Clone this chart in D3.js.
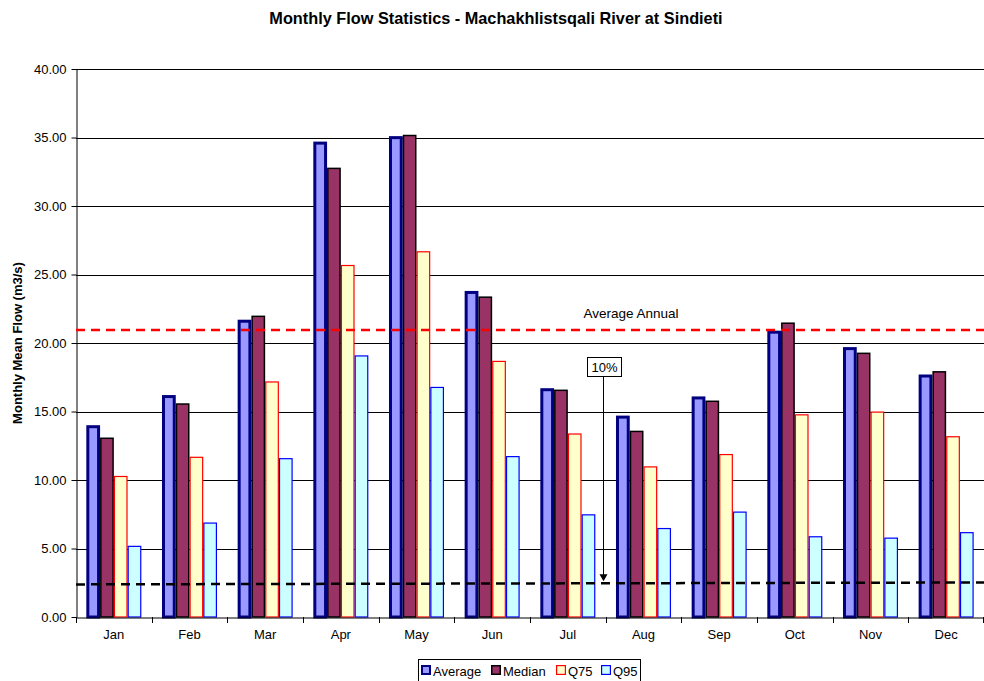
<!DOCTYPE html>
<html><head><meta charset="utf-8">
<script src="https://cdn.jsdelivr.net/npm/d3@7"></script>
<style>body{margin:0;background:#fff;}svg{display:block;font-family:"Liberation Sans",Arial,sans-serif;}</style>
</head><body><svg id="c" width="984" height="681"></svg>
<script>
const months = ["Jan","Feb","Mar","Apr","May","Jun","Jul","Aug","Sep","Oct","Nov","Dec"];
const average = [14.0,16.2,21.7,34.7,35.1,23.8,16.7,14.7,16.1,20.9,19.7,17.7];
const median  = [13.1,15.6,22.0,32.8,35.2,23.4,16.6,13.6,15.8,21.5,19.3,17.95];
const q75     = [10.3,11.7,17.2,25.7,26.7,18.7,13.4,11.0,11.9,14.8,15.0,13.2];
const q95     = [5.2,6.9,11.6,19.1,16.8,11.75,7.5,6.5,7.7,5.9,5.8,6.2];
const yTicks = [0,5,10,15,20,25,30,35,40];
const averageAnnual = 20.95;
const tenPercent = [2.38, 2.52];
const seriesNames = ["Average","Median","Q75","Q95"];
const seriesValues = [average, median, q75, q95];
const styles = [
  {fill:"#9999FF", stroke:"#000080", sw:3},
  {fill:"#993366", stroke:"#000000", sw:1.5},
  {fill:"#FFFFCC", stroke:"#FF0000", sw:1.2},
  {fill:"#CCFFFF", stroke:"#0000FF", sw:1.2}
];

const svg = d3.select("#c");
const L = 76, R = 984, T = 69, B = 617;
const x = d3.scaleBand().domain(months).range([L, R]).paddingInner(0).paddingOuter(0);
const y = d3.scaleLinear().domain([0, 40]).range([B, T]);
const bw = x.bandwidth() / 5.5;
const xs = d3.scaleBand().domain(seriesNames).range([0.75*bw, 4.75*bw]).padding(0);

// title
svg.append("text").attr("x", 496).attr("y", 24).attr("text-anchor","middle")
  .attr("font-size", 16.3).attr("font-weight","bold").text("Monthly Flow Statistics - Machakhlistsqali River at Sindieti");

// gridlines
svg.append("g").selectAll("line").data(yTicks.filter(d=>d>0)).join("line")
  .attr("x1", L).attr("x2", R).attr("y1", d=>Math.round(y(d))+0.5).attr("y2", d=>Math.round(y(d))+0.5)
  .attr("stroke","#000").attr("stroke-width",1);

// bars
const g = svg.append("g");
seriesNames.forEach((s, i) => {
  g.append("g").selectAll("rect").data(months).join("rect")
    .attr("x", (m) => x(m) + xs(s) + styles[i].sw/2)
    .attr("width", xs.bandwidth() - styles[i].sw)
    .attr("y", (m, j) => y(seriesValues[i][j]) + styles[i].sw/2)
    .attr("height", (m, j) => B - y(seriesValues[i][j]) - styles[i].sw/2)
    .attr("fill", styles[i].fill).attr("stroke", styles[i].stroke).attr("stroke-width", styles[i].sw);
});

// y axis
const ya = svg.append("g").attr("transform", `translate(${L+0.5},0)`)
  .call(d3.axisLeft(y).tickValues(yTicks).tickFormat(d3.format(".2f")).tickSize(5).tickSizeOuter(0));
ya.select(".domain").attr("stroke","#000");
ya.selectAll("text").attr("font-size", 13).attr("font-family","Liberation Sans, Arial, sans-serif").attr("fill","#000").attr("dx", -2);
ya.selectAll(".tick line").attr("stroke","#000");

// x axis
const xa = svg.append("g").attr("transform", `translate(0,${B+0.5})`)
  .call(d3.axisBottom(x).tickSize(0).tickPadding(12));
xa.select(".domain").attr("stroke","#000");
xa.selectAll("text").attr("font-size", 13).attr("font-family","Liberation Sans, Arial, sans-serif").attr("fill","#000");
svg.append("g").selectAll("line").data(months).join("line")
  .attr("x1", d=>Math.round(x(d))+0.5).attr("x2", d=>Math.round(x(d))+0.5)
  .attr("y1", B).attr("y2", B+6).attr("stroke","#000");
svg.append("line").attr("x1", R-0.5).attr("x2", R-0.5).attr("y1", B).attr("y2", B+6).attr("stroke","#000");

// y label
svg.append("text").attr("transform", `translate(22,${(T+B)/2}) rotate(-90)`).attr("text-anchor","middle")
  .attr("font-size", 13).attr("font-weight","bold").text("Monthly Mean Flow (m3/s)");

// average annual line
svg.append("line").attr("x1", L).attr("x2", R).attr("y1", y(averageAnnual)).attr("y2", y(averageAnnual))
  .attr("stroke","#FF0000").attr("stroke-width",2.5).attr("stroke-dasharray","9,6");
svg.append("text").attr("x", 631).attr("y", y(averageAnnual) - 12).attr("text-anchor","middle")
  .attr("font-size", 13.5).text("Average Annual");

// 10% line
svg.append("line").attr("x1", L).attr("x2", R).attr("y1", y(tenPercent[0])).attr("y2", y(tenPercent[1]))
  .attr("stroke","#000").attr("stroke-width",2.5).attr("stroke-dasharray","9,6");

// 10% annotation
const ax = 603.5;
const yAt = y(tenPercent[0]) + (y(tenPercent[1]) - y(tenPercent[0])) * (ax - L) / (R - L);
svg.append("line").attr("x1", ax).attr("x2", ax).attr("y1", 376).attr("y2", yAt - 7).attr("stroke","#000").attr("stroke-width",1);
svg.append("path").attr("d", `M${ax-4},${yAt-9} L${ax+4},${yAt-9} L${ax},${yAt-2} Z`).attr("fill","#000");
svg.append("rect").attr("x", 587.5).attr("y", 357.5).attr("width", 34).attr("height", 19).attr("fill","#fff").attr("stroke","#000");
svg.append("text").attr("x", 604.5).attr("y", 372).attr("text-anchor","middle").attr("font-size", 13).text("10%");

// legend
const lg = svg.append("g");
lg.append("rect").attr("x", 418.5).attr("y", 659.5).attr("width", 222).attr("height", 22).attr("fill","#fff").attr("stroke","#000");
const lx = [421, 491, 556, 601];
seriesNames.forEach((s, i) => {
  const sw = Math.min(styles[i].sw, 2);
  lg.append("rect").attr("x", lx[i] + sw/2).attr("y", 665 + sw/2)
    .attr("width", 10 - sw).attr("height", 10 - sw)
    .attr("fill", styles[i].fill).attr("stroke", styles[i].stroke).attr("stroke-width", sw);
  lg.append("text").attr("x", lx[i] + 12).attr("y", 675.5).attr("font-size", 13).text(s);
});
</script></body></html>
